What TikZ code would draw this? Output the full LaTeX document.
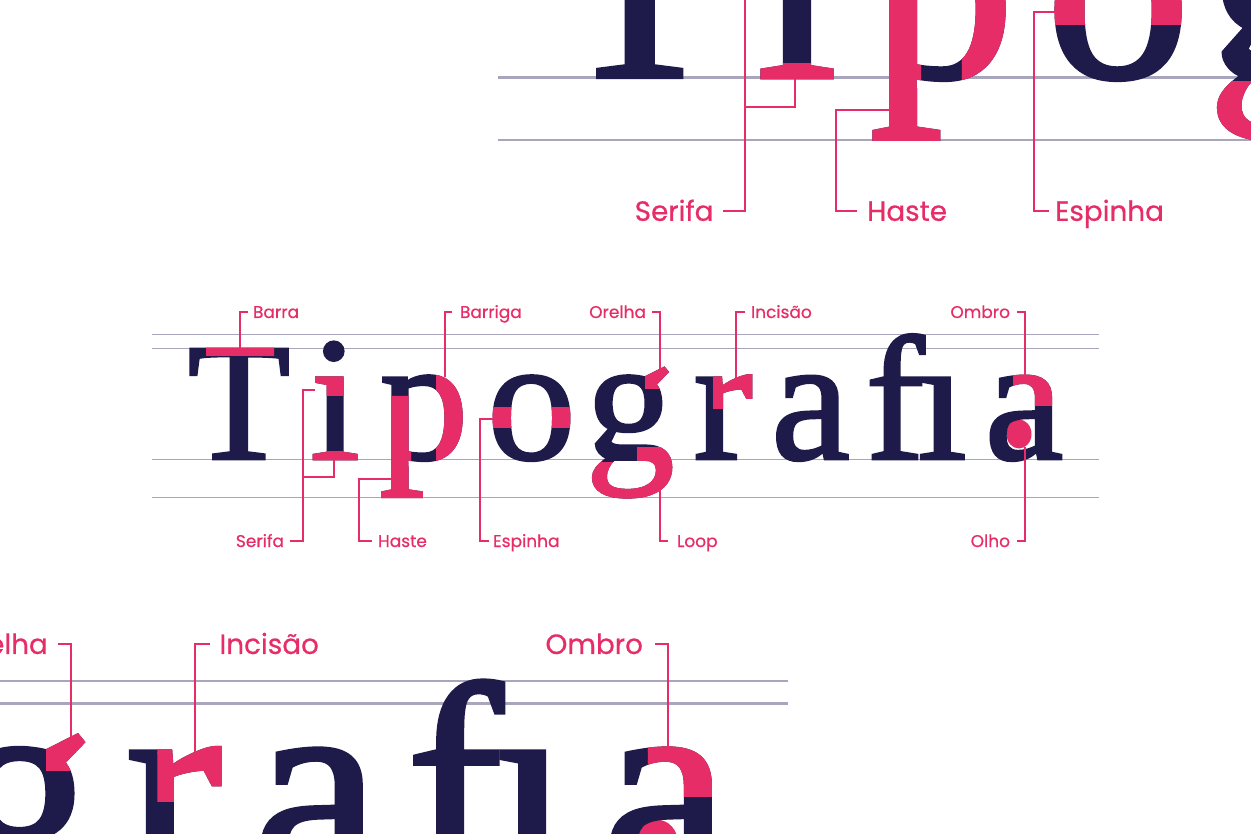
\documentclass[tikz,border=0pt]{standalone}
\usepackage{fontspec}
\newfontfamily\glyphfont[FakeBold=1.6]{Liberation Serif}
\newfontfamily\labelfont[FakeBold=0.6]{Poppins}
\definecolor{navy}{HTML}{1E1B4B}
\definecolor{rosa}{HTML}{E72D67}
\definecolor{guide}{HTML}{A8A5BC}
\def\lwf{1}
\tikzset{
  glyph/.style={inner sep=0pt, outer sep=0pt, anchor=base, text=navy, font=\glyphfont\fontsize{177}{177}\selectfont},
  glyphcap/.style={glyph, font=\glyphfont\fontsize{168}{168}\selectfont},
  pink/.style={text=rosa},
  guideline/.style={draw=guide, line width=1.3pt*\lwf},
  leader/.style={draw=rosa, line width=1.2pt*\lwf},
  lbl/.style={inner sep=0pt, outer sep=0pt, text=rosa, font=\labelfont\fontsize{17}{17}\selectfont},
}
\newcommand\HL[5]{% name, style, x, text, clip path
  \begin{scope}\clip #5; \node[#2, pink] (#1) at (#3,459) {#4};\end{scope}}
\newcommand\Diagram[1]{%
  % guide lines
  \draw[guideline] (152,334.3) -- (1099,334.3);
  \draw[guideline] (152,348.3) -- (1099,348.3);
  \draw[guideline] (152,459.3) -- (1099,459.3);
  \draw[guideline] (152,497.3) -- (1099,497.3);
  % olho (counter fill)
  \fill[rosa] (1019,434) ellipse [x radius=12.5, y radius=14.5];
  % letters
  \node[glyphcap] (#1T) at (239,459) {T};
  \node[glyph] (#1i) at (335,459) {i};
  \node[glyph] (#1p) at (424,459) {p};
  \node[glyph] (#1o) at (531.5,459) {o};
  \node[glyph] (#1g) at (630,459) {g};
  \node[glyph] (#1r) at (723,459) {r};
  \node[glyph] (#1a) at (810.5,459) {a};
  \node[glyph] (#1fi) at (916,459) {f\kern-0.04em ı};
  \node[glyph] (#1aa) at (1024,459) {a};
  % highlights
  \HL{#1Thl}{glyphcap}{239}{T}{(206,330) rectangle (274,356)}
  \HL{#1ihla}{glyph}{335}{i}{(295,368) rectangle (345,396)}
  \HL{#1ihlb}{glyph}{335}{i}{(295,451) rectangle (375,470)}
  \HL{#1phla}{glyph}{424}{p}{(365,396) -- (411,396) -- (411,482) -- (432,482) -- (432,505) -- (365,505) -- cycle}
  \HL{#1phlb}{glyph}{424}{p}{(436,365) rectangle (485,470)}
  \HL{#1ohl}{glyph}{531.5}{o}{(480,407) rectangle (585,427)}
  \HL{#1ghla}{glyph}{630}{g}{(645,365) rectangle (690,389)}
  \HL{#1ghlb}{glyph}{630}{g}{(637,447) rectangle (690,515)}
  \HL{#1ghlc}{glyph}{630}{g}{(575,462) rectangle (690,515)}
  \HL{#1rhl}{glyph}{723}{r}{(713,365) rectangle (775,408)}
  \HL{#1aahl}{glyph}{1024}{a}{(1013,365) rectangle (1065,405)}
  % labels
  \node[lbl, anchor=base west] (#1barra) at (253,318) {Barra};
  \node[lbl, anchor=base west] (#1barriga) at (460,318) {Barriga};
  \node[lbl, anchor=base east] (#1orelha) at (646,318) {Orelha};
  \node[lbl, anchor=base west] (#1incisao) at (751,318) {Incisão};
  \node[lbl, anchor=base east] (#1ombro) at (1010,318) {Ombro};
  \node[lbl, anchor=base east] (#1serifa) at (284,547) {Serifa};
  \node[lbl, anchor=base west] (#1haste) at (378,547) {Haste};
  \node[lbl, anchor=base west] (#1espinha) at (493,547) {Espinha};
  \node[lbl, anchor=base west] (#1loop) at (677,547) {Loop};
  \node[lbl, anchor=base east] (#1olho) at (1010,547) {Olho};
  % leader coordinates
  \coordinate (#1barraA) at (248,312);  \coordinate (#1barraB) at (240,312);  \coordinate (#1barraC) at (240,348);
  \coordinate (#1barrigaA) at (452,312); \coordinate (#1barrigaB) at (445,312); \coordinate (#1barrigaC) at (445,377);
  \coordinate (#1orelhaA) at (652,312); \coordinate (#1orelhaB) at (660,312); \coordinate (#1orelhaC) at (660,376);
  \coordinate (#1incisaoA) at (745,312); \coordinate (#1incisaoB) at (736,312); \coordinate (#1incisaoC) at (736,378);
  \coordinate (#1ombroA) at (1017,312); \coordinate (#1ombroB) at (1025,312); \coordinate (#1ombroC) at (1025,376);
  \coordinate (#1serifaA) at (290,541); \coordinate (#1serifaB) at (303,541); \coordinate (#1serifaC) at (303,390); \coordinate (#1serifaD) at (315,390);
  \coordinate (#1serifaE) at (303,477); \coordinate (#1serifaF) at (334,477); \coordinate (#1serifaG) at (334,459);
  \coordinate (#1hasteA) at (372,541); \coordinate (#1hasteB) at (359,541); \coordinate (#1hasteC) at (359,479); \coordinate (#1hasteD) at (395,479);
  \coordinate (#1espinhaA) at (489,541); \coordinate (#1espinhaB) at (480,541); \coordinate (#1espinhaC) at (480,419); \coordinate (#1espinhaD) at (493,419);
  \coordinate (#1loopA) at (668,541); \coordinate (#1loopB) at (660,541); \coordinate (#1loopC) at (660,488);
  \coordinate (#1olhoA) at (1017,541); \coordinate (#1olhoB) at (1025,541); \coordinate (#1olhoC) at (1025,447);
  % leaders
  \draw[leader] (#1barraA) -- (#1barraB) -- (#1barraC);
  \draw[leader] (#1barrigaA) -- (#1barrigaB) -- (#1barrigaC);
  \draw[leader] (#1orelhaA) -- (#1orelhaB) -- (#1orelhaC);
  \draw[leader] (#1incisaoA) -- (#1incisaoB) -- (#1incisaoC);
  \draw[leader] (#1ombroA) -- (#1ombroB) -- (#1ombroC);
  \draw[leader] (#1serifaA) -- (#1serifaB) -- (#1serifaC) -- (#1serifaD);
  \draw[leader] (#1serifaE) -- (#1serifaF) -- (#1serifaG);
  \draw[leader] (#1hasteA) -- (#1hasteB) -- (#1hasteC) -- (#1hasteD);
  \draw[leader] (#1espinhaA) -- (#1espinhaB) -- (#1espinhaC) -- (#1espinhaD);
  \draw[leader] (#1loopA) -- (#1loopB) -- (#1loopC);
  \draw[leader] (#1olhoA) -- (#1olhoB) -- (#1olhoC);
}
\begin{document}
\begin{tikzpicture}[x=1pt,y=-1pt]
  \useasboundingbox (0,0) rectangle (1251,834);
  \fill[white] (0,0) rectangle (1251,834);
  \clip (0,0) rectangle (1251,834);
  \Diagram{m}
  \begin{scope}[shift={(249.1,-673.5)}, scale=1.635, transform shape]
    \def\lwf{1.635}
    \Diagram{t}
  \end{scope}
  \begin{scope}[shift={(-1008.4,134)}, scale=1.635, transform shape]
    \def\lwf{1.635}
    \Diagram{b}
  \end{scope}
\end{tikzpicture}
\end{document}
